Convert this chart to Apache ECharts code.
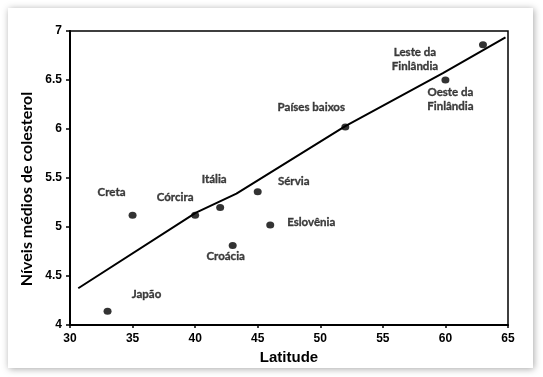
<!DOCTYPE html>
<html>
<head>
<meta charset="utf-8">
<script src="https://cdn.jsdelivr.net/npm/echarts@6/dist/echarts.min.js"></script>
<style>
  html, body { margin: 0; padding: 0; background: #ffffff; }
  #card { position: absolute; left: 8px; top: 8px; width: 525px; height: 360px; background: #fff;
          box-shadow: 1px 1px 7px rgba(0,0,0,0.35); }
  #chart { position: absolute; left: 0; top: 0; width: 543px; height: 377px; }
</style>
</head>
<body>
<div id="card"></div>
<div id="chart"></div>
<script>
// ---- data ----
const countries   = ['Japão', 'Creta', 'Córcira', 'Itália', 'Croácia', 'Sérvia', 'Eslovênia', 'Países baixos', 'Oeste da\nFinlândia', 'Leste da\nFinlândia'];
const latitude    = [33, 35, 40, 42, 43, 45, 46, 52, 60, 63];
const cholesterol = [4.14, 5.12, 5.12, 5.2, 4.81, 5.36, 5.02, 6.02, 6.5, 6.86];
const trendLat    = [30.66, 40.07, 43.3, 52.0, 59.8, 64.8];
const trendChol   = [4.375, 5.146, 5.34, 6.03, 6.57, 6.936];
const xTickMin = 30, xTickMax = 65, xTickStep = 5;
const yTickMin = 4, yTickMax = 7, yTickStep = 0.5;

// ---- label placement (style only) ----
const labelOffsets = [[39, -17], [-21, -23], [-20, -18], [-6, -28], [-7, 11], [36, -10], [41, -3], [-34, -20], [5, 19], [-68, 15]];

const scatterData = latitude.map((x, i) => ({
  value: [x, cholesterol[i]],
  label: { show: true, position: 'inside', offset: labelOffsets[i], formatter: countries[i] }
}));
const lineData = trendLat.map((x, i) => [x, trendChol[i]]);

const tickFont = { fontFamily: 'Liberation Sans', fontWeight: 'bold', fontSize: 12, color: '#000' };

const chart = echarts.init(document.getElementById('chart'));
chart.setOption({
  animation: false,
  backgroundColor: 'transparent',
  grid: { left: 70, right: 35, top: 31, bottom: 52, show: true, borderColor: '#000', borderWidth: 1.5 },
  xAxis: {
    type: 'value', min: xTickMin, max: xTickMax, interval: xTickStep,
    name: 'Latitude', nameLocation: 'middle', nameGap: 22,
    nameTextStyle: { fontFamily: 'Liberation Sans', fontWeight: 'bold', fontSize: 15, color: '#000' },
    axisLine: { show: true, lineStyle: { color: '#000', width: 2 } },
    axisTick: { show: true, length: 3, lineStyle: { color: '#000', width: 1.5 } },
    axisLabel: Object.assign({ margin: 8 }, tickFont),
    splitLine: { show: false }
  },
  yAxis: {
    type: 'value', min: yTickMin, max: yTickMax, interval: yTickStep,
    name: 'Níveis médios de colesterol', nameLocation: 'middle', nameGap: 34,
    nameTextStyle: { fontFamily: 'Lato', fontWeight: 'bold', fontSize: 16, color: '#000', padding: [0, 22, 0, 0] },
    axisLine: { show: true, lineStyle: { color: '#000', width: 2 } },
    axisTick: { show: true, length: 4, lineStyle: { color: '#000', width: 1.5 } },
    axisLabel: Object.assign({ margin: 8 }, tickFont),
    splitLine: { show: false }
  },
  series: [
    {
      type: 'line', data: lineData, showSymbol: false, symbol: 'none',
      lineStyle: { color: '#000', width: 2 }, z: 2
    },
    {
      type: 'scatter', data: scatterData, symbol: 'circle', symbolSize: [8, 7],
      itemStyle: { color: '#000' },
      label: { fontFamily: 'Lato', fontWeight: 'bold', fontSize: 11.5, color: '#111', lineHeight: 14, align: 'center',
               textBorderColor: '#111', textBorderWidth: 0.35 },
      z: 3
    }
  ]
});
</script>
</body>
</html>
